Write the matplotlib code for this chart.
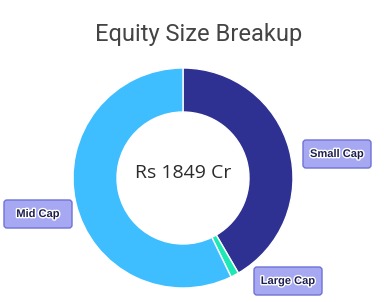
import matplotlib
matplotlib.use("Agg")
import matplotlib.pyplot as plt
import matplotlib.patheffects as pe
from matplotlib.patches import FancyBboxPatch

labels = ["Small Cap", "Large Cap", "Mid Cap"]
shares = [41.6, 1.2, 57.2]
colors = ["#2E3192", "#1DE9B6", "#3FBEFF"]
title = "Equity Size Breakup"
center_text = "Rs 1849 Cr"

W, H = 384, 302
fig = plt.figure(figsize=(W / 100, H / 100), dpi=100)
ax = fig.add_axes([0, 0, 1, 1])

cx, cy, r = 183, H - 178, 110
ax.pie(shares, colors=colors, startangle=90, counterclock=False,
       center=(cx, cy), radius=r,
       wedgeprops=dict(width=44, edgecolor="white", linewidth=1))
ax.set_xlim(0, W)
ax.set_ylim(0, H)
ax.set_aspect("equal")
ax.axis("off")

ax.text(199, H - 34, title, ha="center", va="center", fontsize=17,
        family="Roboto", color="#444444")
ax.text(cx, cy + 5, center_text, ha="center", va="center", fontsize=14,
        family="Open Sans", color="#2B2B2B")

# data label boxes: centre (x, y from top)
label_pos = {"Small Cap": (337, 154), "Large Cap": (288, 281), "Mid Cap": (38, 214)}
bw, bh = 68, 28
for name in labels:
    x, y = label_pos[name]
    box = FancyBboxPatch((x - bw / 2, H - y - bh / 2), bw, bh,
                         boxstyle="round,pad=0,rounding_size=3",
                         facecolor="#A6A9F2", edgecolor="#6E72D6", linewidth=1)
    ax.add_patch(box)
    ax.text(x, H - y, name, ha="center", va="center", fontsize=8,
            family="Liberation Sans", weight="bold", color="#1F1F4F",
            path_effects=[pe.withStroke(linewidth=2, foreground="white")])

fig.savefig("out.png", dpi=100)
